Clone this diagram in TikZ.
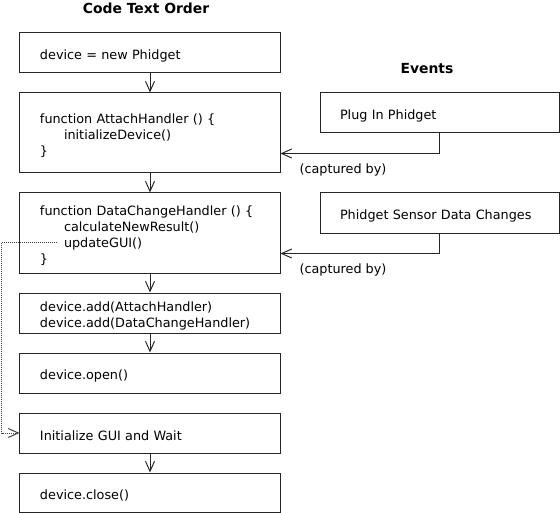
\documentclass[tikz,border=0pt]{standalone}
\usepackage{fontspec}
\setmainfont{DejaVu Sans}
\usetikzlibrary{arrows.meta,positioning}
\begin{document}
\begin{tikzpicture}[x=1bp,y=-1bp,
  txt/.style={font=\fontsize{12.8bp}{16bp}\selectfont},
  ttl/.style={font=\fontsize{13.9bp}{16bp}\selectfont\bfseries},
  box/.style={draw=black!85, line width=1bp, rectangle, txt,
    minimum width=260bp, minimum height=40bp, text width=220bp,
    inner xsep=20bp, inner ysep=0bp, align=left,
    execute at begin node={\rule{0pt}{15bp}}},
  evbox/.style={box, minimum width=239bp, text width=199bp},
  arr/.style={draw=black!85, line width=1bp, -{Straight Barb[length=10bp,width=9bp]}},
  dotarr/.style={draw=black!75, line width=1bp, densely dotted, -{Straight Barb[length=10bp,width=9bp]}}
]
\useasboundingbox (0,0) rectangle (560,513);
\node[ttl] (t1) at (146,8) {Code Text Order};
\node[ttl] (t2) at (427,68.5) {Events};

\node[box] (b1) at (150,53) {device = new Phidget};
\node[box, minimum height=80bp] (b2) at (150,133) {function AttachHandler () \{\\\hspace*{24bp}initializeDevice()\\\}};
\node[box, minimum height=80bp] (b3) at (150,233) {function DataChangeHandler () \{\\\hspace*{24bp}calculateNewResult()\\\hspace*{24bp}updateGUI()\\\}};
\node[box] (b4) at (150,313) {device.add(AttachHandler)\\device.add(DataChangeHandler)};
\node[box] (b5) at (150,373) {device.open()};
\node[box] (b6) at (150,433) {Initialize GUI and Wait};
\node[box, minimum height=39bp] (b7) at (150,492.5) {device.close()};

\node[evbox] (e1) at (439.5,113) {Plug In Phidget};
\node[evbox] (e2) at (439.5,213) {Phidget Sensor Data Changes};

\node[txt] (c1) at (343,170) {(captured by)};
\node[txt] (c2) at (343,270) {(captured by)};

\draw[arr] (b1) -- (b2);
\draw[arr] (b2) -- (b3);
\draw[arr] (b3) -- (b4);
\draw[arr] (b4) -- (b5);
\draw[arr] (b6) -- (b7);

\draw[arr] (e1.south) |- ([yshift=20bp]b2.south east);
\draw[arr] (e2.south) |- ([yshift=20bp]b3.south east);

\coordinate (d0) at (57,242.5);
\coordinate (d1) at (1.5,242.5);
\draw[dotarr] (d0) -- (d1) |- (b6.west);
\end{tikzpicture}
\end{document}
